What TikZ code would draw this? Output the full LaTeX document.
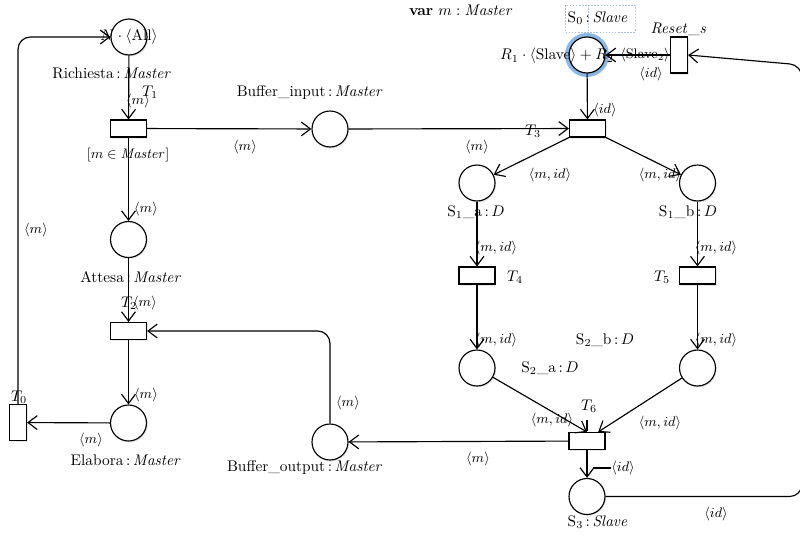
\documentclass[tikz,border=0pt]{standalone}
\usetikzlibrary{arrows.meta,shadows,calc}
\definecolor{glow}{RGB}{110,165,225}
\definecolor{boxc}{RGB}{170,190,225}
\begin{document}
\begin{tikzpicture}[x=0.65pt,y=-0.65pt,
  shd/.style={drop shadow={shadow xshift=0.8pt,shadow yshift=-1pt,opacity=0.18}},
  place/.style={circle,draw,line width=0.75pt,fill=white,minimum size=23.4pt,inner sep=0pt,shd},
  trans/.style={rectangle,draw,line width=0.75pt,fill=white,minimum width=23.4pt,minimum height=11pt,inner sep=0pt,shd},
  vtrans/.style={trans,minimum width=11pt,minimum height=23.4pt},
  arc/.style={line width=0.75pt,-{Straight Barb[length=6pt,width=9pt]}},
  tick/.style={line width=0.75pt},
  lbl/.style={font=\fontsize{10}{12}\selectfont,inner sep=0pt},
  alb/.style={font=\fontsize{9}{11}\selectfont,inner sep=0pt}]
\useasboundingbox (0,0) rectangle (800,535);

% title
\node[lbl] (var) at (461,10) {\textbf{var} $m:\mathit{Master}$};

% places
\node[place] (rich) at (129,37) {};
\node[place] (att) at (128.5,239.5) {};
\node[place] (elab) at (128.5,423) {};
\node[place] (bin) at (330,129) {};
\node[place] (bout) at (330,442) {};
\draw[glow,line width=2.6pt,opacity=0.8] (587,55) circle (13pt);
\node[place] (s0) at (587,55) {};
\node[place] (s1a) at (477,183) {};
\node[place] (s1b) at (697.5,183) {};
\node[place] (s2a) at (477,368) {};
\node[place] (s2b) at (697.5,368) {};
\node[place] (s3) at (587,496.5) {};

% transitions
\node[trans] (t1) at (128.5,128.5) {};
\node[trans] (t2) at (128.5,331) {};
\node[vtrans] (t0) at (18,422.5) {};
\node[trans] (t3) at (587.5,128.5) {};
\node[trans] (t4) at (477,275.5) {};
\node[trans] (t5) at (697.5,275.5) {};
\node[trans] (t6) at (587,441) {};
\node[vtrans] (reset) at (679,55) {};

% tokens
\node[lbl] (tokr) at (129,37) {$N\cdot\langle\mathrm{All}\rangle$};
\node[lbl] (toks) at (557,56) {$R_1\cdot\langle\mathrm{Slave}\rangle+R_2$};

% place labels
\node[lbl] (lrich) at (112,73) {Richiesta\,:\,$\mathit{Master}$};
\node[lbl] (latt) at (131,277) {Attesa\,:\,$\mathit{Master}$};
\node[lbl] (lelab) at (126,460) {Elabora\,:\,$\mathit{Master}$};
\node[lbl] (lbin) at (310,93) {Buffer\_input\,:\,$\mathit{Master}$};
\node[lbl] (lbout) at (305,468) {Buffer\_output\,:\,$\mathit{Master}$};
\node[lbl] (ls0) at (598,18) {S$_0$\,:\,$\mathit{Slave}$};
\node[lbl] (ls1a) at (476,212) {S$_1$\_a\,:\,$D$};
\node[lbl] (ls1b) at (688,212) {S$_1$\_b\,:\,$D$};
\node[lbl] (ls2a) at (550,368) {S$_2$\_a\,:\,$D$};
\node[lbl] (ls2b) at (605,340) {S$_2$\_b\,:\,$D$};
\node[lbl] (ls3) at (598,522) {S$_3$\,:\,$\mathit{Slave}$};
\draw[boxc,dash pattern=on 1pt off 1pt,line width=0.4pt] (565,5) rectangle (635,32);
\draw[boxc,dash pattern=on 1pt off 1pt,line width=0.4pt] (588,5) -- (588,32);

% transition labels
\node[lbl] (lt0) at (19,397) {$T_0$};
\node[lbl] (lt1) at (150,92) {$T_1$};
\node[lbl] (lt2) at (129,303) {$T_2$};
\node[lbl] (lt3) at (533,131) {$T_3$};
\node[lbl] (lt4) at (515,277) {$T_4$};
\node[lbl] (lt5) at (662,277) {$T_5$};
\node[lbl] (lt6) at (589,406) {$T_6$};
\node[lbl] (lreset) at (679,29) {$\mathit{Reset\_s}$};
\node[alb] (guard) at (128,155) {$[m\in\mathit{Master}]$};

% arcs
\draw[arc] (rich) -- (t1);
\draw[arc] (t1) -- (att);
\draw[arc] (att) -- (t2);
\draw[arc] (t2) -- (elab);
\draw[arc] (elab) -- (t0);
\draw[arc,rounded corners=8pt] (t0.north) |- (rich.west);
\draw[arc] (t1) -- (bin);
\draw[arc] (bin) -- (t3);
\draw[arc] (s0) -- (t3);
\draw[arc] (reset) -- (s0);
\draw[arc] (t3.south west) -- (s1a);
\draw[arc] (t3.south east) -- (s1b);
\draw[arc] (s1a) -- (t4);
\draw[arc] (t4) -- (s2a);
\draw[arc] (s1b) -- (t5);
\draw[arc] (t5) -- (s2b);
\draw[arc] (s2a) -- (t6.north);
\draw[arc] (s2b) -- ($(t6.north)!0.6!(t6.north east)$);
\draw[arc] (t6) -- (bout);
\draw[arc,rounded corners=8pt] (bout.north) |- (t2.east);
\draw[arc] (t6) -- (s3);
\coordinate (c1) at (802,496.5);
\coordinate (c2) at (802,65);
\draw[arc,rounded corners=8pt] (s3.east) -- (c1) -- (c2) -- (reset.east);
\draw[tick] (587,420) -- (587,431);
\draw[tick] (593,468) -- (611,468);

% arc labels
\node[alb] (a1) at (138,101) {$\langle m\rangle$};
\node[alb] (a2) at (146,209) {$\langle m\rangle$};
\node[alb] (a3) at (145,303) {$\langle m\rangle$};
\node[alb] (a4) at (146,395) {$\langle m\rangle$};
\node[alb] (a5) at (91,440) {$\langle m\rangle$};
\node[alb] (a6) at (36,230) {$\langle m\rangle$};
\node[alb] (a7) at (245,147) {$\langle m\rangle$};
\node[alb] (a8) at (477,147) {$\langle m\rangle$};
\node[alb] (a9) at (605,110) {$\langle id\rangle$};
\node[alb] (a10) at (645,55) {$\langle\mathrm{Slave}_2\rangle$};
\node[alb] (a11) at (651,74) {$\langle id\rangle$};
\node[alb] (a12) at (550,175) {$\langle m,id\rangle$};
\node[alb] (a13) at (660,175) {$\langle m,id\rangle$};
\node[alb] (a14) at (496,248) {$\langle m,id\rangle$};
\node[alb] (a15) at (716,248) {$\langle m,id\rangle$};
\node[alb] (a16) at (496,340) {$\langle m,id\rangle$};
\node[alb] (a17) at (716,340) {$\langle m,id\rangle$};
\node[alb] (a18) at (552,420) {$\langle m,id\rangle$};
\node[alb] (a19) at (660,423) {$\langle m,id\rangle$};
\node[alb] (a20) at (478,459) {$\langle m\rangle$};
\node[alb] (a21) at (623,468) {$\langle id\rangle$};
\node[alb] (a22) at (716,514) {$\langle id\rangle$};
\node[alb] (a23) at (348,403) {$\langle m\rangle$};
\end{tikzpicture}
\end{document}
